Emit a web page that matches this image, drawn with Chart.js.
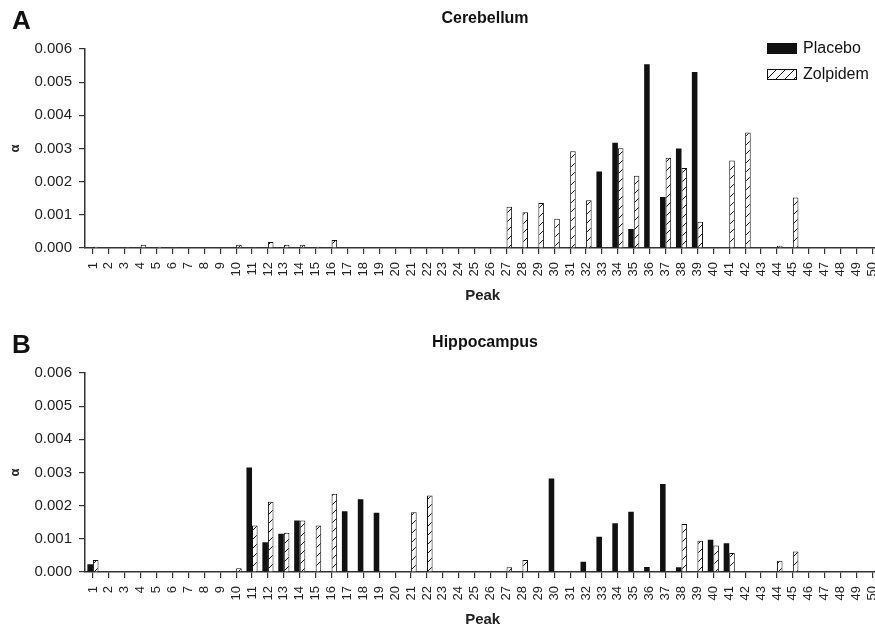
<!DOCTYPE html>
<html>
<head>
<meta charset="utf-8">
<script src="https://cdn.jsdelivr.net/npm/chart.js@4.4.1/dist/chart.umd.min.js"></script>
<style>
  body { margin: 0; background: #fff; overflow: hidden; width: 875px; height: 631px; position: relative; }
  canvas { position: absolute; left: 0; }
  #chartA { top: 0; }
  #chartB { top: 324px; }
</style>
</head>
<body>
<canvas id="chartA" width="896" height="307"></canvas>
<canvas id="chartB" width="896" height="307"></canvas>
<script>
var peaks = ['1','2','3','4','5','6','7','8','9','10',
  '11','12','13','14','15','16','17','18','19','20',
  '21','22','23','24','25','26','27','28','29','30',
  '31','32','33','34','35','36','37','38','39','40',
  '41','42','43','44','45','46','47','48','49','50'];

// Cerebellum (panel A)
var cerebellumPlacebo = [0,0,0,0,0,0,0,0,0,0,
  0,0,0,0,0,0,0,0,0,0,
  0,0,0,0,0,0,0,0,0,0,
  0,0,0.00231,0.00317,0.00057,0.00554,0.00154,0.00300,0.00531,0,
  0,0,0,0,0,0,0,0,0,0];
var cerebellumZolpidem = [0.00004,0.00001,0.00003,0.0001,0.00004,0.00002,0,0,0,0.0001,
  0.00002,0.00018,0.0001,0.0001,0.00004,0.00024,0,0,0,0,
  0,0,0,0,0,0,0.00124,0.00108,0.00136,0.00088,
  0.00292,0.00144,0,0.00301,0.00218,0,0.00272,0.00241,0.00079,0,
  0.00264,0.00348,0,0.00007,0.00152,0,0,0,0,0];

// Hippocampus (panel B)
var hippocampusPlacebo = [0.00023,0,0,0,0,0,0,0,0,0,
  0.00315,0.0009,0.00115,0.00155,0,0,0.00183,0.00219,0.00179,0,
  0,0,0,0,0,0,0,0,0,0.00282,
  0,0.00031,0.00106,0.00147,0.00182,0.00015,0.00265,0.00014,0,0.00097,
  0.00087,0,0,0,0,0,0,0,0,0];
var hippocampusZolpidem = [0.00036,0,0,0,0,0,0,0,0,0.00011,
  0.0014,0.00212,0.00118,0.00155,0.0014,0.00236,0,0,0,0,
  0.0018,0.00231,0,0,0,0,0.00014,0.00036,0,0,
  0,0,0,0,0,0,0,0.00145,0.00094,0.0008,
  0.00057,0,0,0.00034,0.00062,0,0,0,0,0];

var yTicks = [0, 0.001, 0.002, 0.003, 0.004, 0.005, 0.006];

var fontFamily = '"Liberation Sans", Arial, Helvetica, sans-serif';
Chart.defaults.font.family = fontFamily;
Chart.defaults.color = '#222';

function makeHatch(ctx) {
  var c = document.createElement('canvas');
  c.width = 9; c.height = 9;
  var g = c.getContext('2d');
  g.fillStyle = '#fff';
  g.fillRect(0, 0, 9, 9);
  g.strokeStyle = '#111';
  g.lineWidth = 1;
  g.beginPath();
  g.moveTo(0, 9); g.lineTo(9, 0);
  g.moveTo(-1, 1); g.lineTo(1, -1);
  g.moveTo(8, 10); g.lineTo(10, 8);
  g.stroke();
  return ctx.createPattern(c, 'repeat');
}

// letter, title and legend
var panelText = {
  id: 'panelText',
  afterDraw: function(chart, args, opts) {
    var ctx = chart.ctx;
    ctx.save();
    ctx.fillStyle = '#111';
    ctx.textBaseline = 'alphabetic';
    ctx.textAlign = 'left';
    ctx.font = 'bold 26px ' + fontFamily;
    ctx.fillText(opts.letter, 12, 29);
    ctx.textAlign = 'center';
    ctx.font = 'bold 16px ' + fontFamily;
    ctx.fillText(opts.title, 485, 23);
    if (opts.legend) {
      ctx.textAlign = 'left';
      ctx.textBaseline = 'middle';
      ctx.font = '16px ' + fontFamily;
      chart.data.datasets.forEach(function(ds, i) {
        var y = 43 + i * 26;
        ctx.fillStyle = ds.backgroundColor;
        ctx.fillRect(767, y, 30, 11);
        if (ds.borderWidth) {
          ctx.strokeStyle = '#111';
          ctx.lineWidth = 1;
          ctx.strokeRect(767.5, y + 0.5, 29, 10);
        }
        ctx.fillStyle = '#111';
        ctx.fillText(ds.label, 803, y + 6);
      });
    }
    ctx.restore();
  }
};

function makeChart(id, placebo, zolpidem, title, letter, showLegend) {
  var ctx = document.getElementById(id).getContext('2d');
  return new Chart(ctx, {
    type: 'bar',
    data: {
      labels: peaks,
      datasets: [{
        label: 'Placebo',
        data: placebo,
        backgroundColor: '#111',
        borderWidth: 0,
        categoryPercentage: 0.7,
        barPercentage: 1.0
      }, {
        label: 'Zolpidem',
        data: zolpidem,
        backgroundColor: makeHatch(ctx),
        borderColor: '#111',
        borderWidth: 1,
        categoryPercentage: 0.7,
        barPercentage: 1.0
      }]
    },
    options: {
      responsive: false,
      animation: false,
      devicePixelRatio: 1,
      layout: { padding: { top: 49, right: 0, left: 0, bottom: 0 } },
      plugins: {
        legend: { display: false },
        tooltip: { enabled: false },
        panelText: { letter: letter, title: title, legend: showLegend }
      },
      scales: {
        x: {
          border: { color: '#333', width: 1.5 },
          grid: { display: true, drawOnChartArea: false, offset: false, tickLength: 6, color: '#333', lineWidth: 1.2 },
          ticks: { autoSkip: false, minRotation: 90, maxRotation: 90, padding: 8, color: '#222', font: { size: 13 } },
          title: { display: true, text: 'Peak', color: '#222', font: { size: 15, weight: 'bold' }, padding: { top: 0, bottom: 2 } },
          afterFit: function(s) { s.height = 59; }
        },
        y: {
          min: 0,
          max: 0.006,
          border: { color: '#333', width: 1.5 },
          grid: { display: true, drawOnChartArea: false, tickLength: 6, color: '#333', lineWidth: 1.2 },
          afterBuildTicks: function(s) {
            s.ticks = yTicks.map(function(v) { return { value: v }; });
          },
          ticks: {
            padding: 7,
            color: '#222',
            font: { size: 15 },
            callback: function(v) { return Number(v).toFixed(3); }
          },
          title: { display: true, text: 'α', color: '#222', font: { size: 13, weight: 'bold' }, padding: { top: 8, bottom: 0 } },
          afterFit: function(s) { s.width = 85; }
        }
      }
    },
    plugins: [panelText]
  });
}

makeChart('chartA', cerebellumPlacebo, cerebellumZolpidem, 'Cerebellum', 'A', true);
makeChart('chartB', hippocampusPlacebo, hippocampusZolpidem, 'Hippocampus', 'B', false);
</script>
</body>
</html>
